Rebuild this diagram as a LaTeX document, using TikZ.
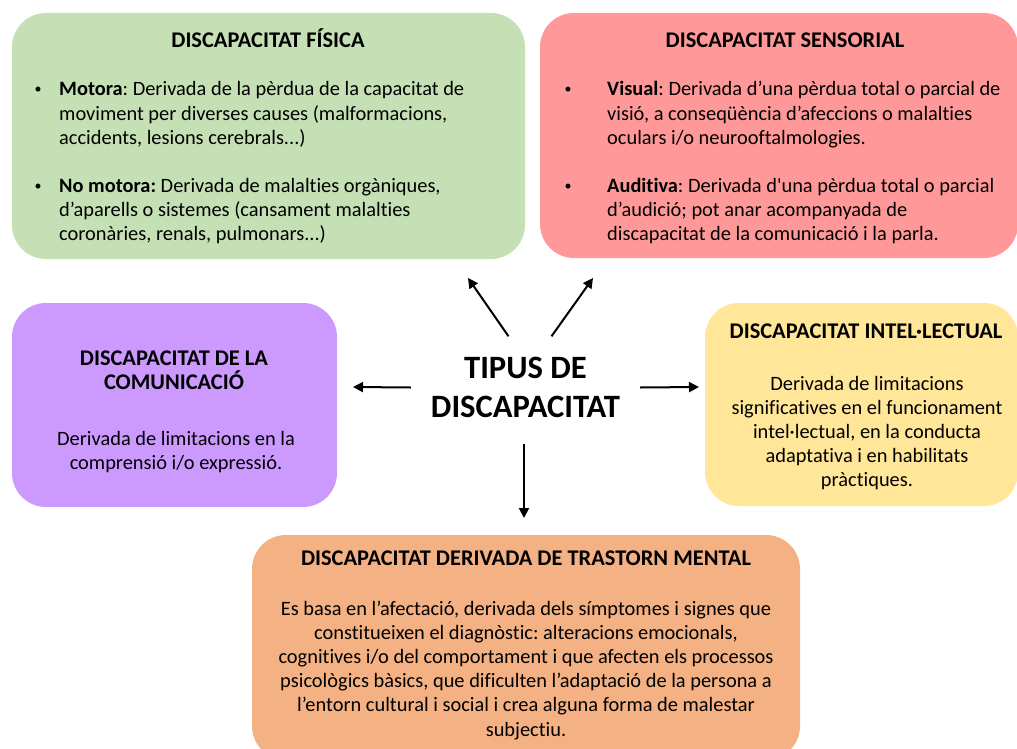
\documentclass[tikz,border=0pt]{standalone}
\usepackage{fontspec}
\setmainfont[Ligatures={TeXOff,NoCommon}]{Carlito}
\usetikzlibrary{arrows.meta}
\definecolor{cgreen}{HTML}{C5E0B4}
\definecolor{cred}{HTML}{FF9999}
\definecolor{cpurple}{HTML}{CC99FF}
\definecolor{cyellow}{HTML}{FFE699}
\definecolor{corange}{HTML}{F4B183}
\frenchspacing
\tikzset{
  box/.style={rounded corners=34pt, inner sep=0, draw=none},
  body/.style={font=\fontsize{20.4}{24.2}\selectfont\frenchspacing, inner sep=0},
  bul/.style={font=\fontsize{14}{16}\selectfont, inner sep=0},
  ttl/.style={font=\fontsize{22.4}{24.6}\selectfont\bfseries\frenchspacing, inner sep=0},
  arr/.style={line width=2pt, -{Triangle[length=10pt,width=10pt]}},
}
\begin{document}
\begin{tikzpicture}[x=1pt,y=-1pt]
\useasboundingbox (0,0) rectangle (1017,749);
\clip (0,0) rectangle (1017,749);
% boxes
\node[box, fill=cgreen,  minimum width=513pt, minimum height=246pt] (fis) at (268.5,136) {};
\node[box, fill=cred,    minimum width=478pt, minimum height=245pt] (sen) at (779,135.5) {};
\node[box, fill=cpurple, minimum width=325pt, minimum height=204pt] (com) at (174.5,405) {};
\node[box, fill=cyellow, minimum width=313pt, minimum height=203pt] (int) at (861.5,404.5) {};
\node[box, fill=corange, minimum width=548pt, minimum height=225pt] (men) at (526,647.5) {};
% fisica
\node[ttl, anchor=base] (fisT) at (268,48) {DISCAPACITAT FÍSICA};
\node[bul, anchor=base] (fisB1) at (38,94) {•};
\node[body, anchor=base west] (fisP1) at (59,96) {\parbox[t]{470pt}{\raggedright\textbf{Motora}: Derivada de la pèrdua de la capacitat de\\moviment per diverses causes (malformacions,\\accidents, lesions cerebrals...)}};
\node[bul, anchor=base] (fisB2) at (38,190.5) {•};
\node[body, anchor=base west] (fisP2) at (59,192.5) {\parbox[t]{470pt}{\raggedright\textbf{No motora:} Derivada de malalties orgàniques,\\d’aparells o sistemes (cansament malalties\\coronàries, renals, pulmonars...)}};
% sensorial
\node[ttl, anchor=base] (senT) at (785,48) {DISCAPACITAT SENSORIAL};
\node[bul, anchor=base] (senB1) at (568,94) {•};
\node[body, anchor=base west] (senP1) at (607,96) {\parbox[t]{420pt}{\raggedright\textbf{Visual}: Derivada d’una pèrdua total o parcial de\\visió, a conseqüència d’afeccions o malalties\\oculars i/o neurooftalmologies.}};
\node[bul, anchor=base] (senB2) at (568,190.5) {•};
\node[body, anchor=base west] (senP2) at (607,192.5) {\parbox[t]{420pt}{\raggedright\textbf{Auditiva}: Derivada d'una pèrdua total o parcial\\d’audició; pot anar acompanyada de\\discapacitat de la comunicació i la parla.}};
% comunicacio
\node[ttl, anchor=base] (comT) at (174,365) {\parbox[t]{310pt}{\centering DISCAPACITAT DE LA\\COMUNICACIÓ}};
\node[body, anchor=base] (comP) at (176,445) {\parbox[t]{310pt}{\centering Derivada de limitacions en la\\comprensió i/o expressió.}};
% intel·lectual
\node[ttl, anchor=base] (intT) at (866,338) {DISCAPACITAT INTEL·LECTUAL};
\node[body, anchor=base] (intP) at (867,390) {\parbox[t]{310pt}{\centering Derivada de limitacions\\significatives en el funcionament\\intel·lectual, en la conducta\\adaptativa i en habilitats\\pràctiques.}};
% mental
\node[ttl, anchor=base] (menT) at (526,565) {DISCAPACITAT DERIVADA DE TRASTORN MENTAL};
\node[body, anchor=base] (menP) at (526,615) {\parbox[t]{545pt}{\centering Es basa en l’afectació, derivada dels símptomes i signes que\\constitueixen el diagnòstic: alteracions emocionals,\\cognitives i/o del comportament i que afecten els processos\\psicològics bàsics, que dificulten l’adaptació de la persona a\\l’entorn cultural i social i crea alguna forma de malestar\\subjectiu.}};
% centre
\node[inner sep=0, minimum width=229pt, minimum height=102pt, align=center,
      font=\fontsize{32.6}{39}\selectfont\bfseries] (tip) at (525.5,387.5) {TIPUS DE\\DISCAPACITAT};
\coordinate (eUL) at (468,278);
\coordinate (eUR) at (593,278);
\coordinate (eL) at (353,387);
\coordinate (eR) at (699,387);
\coordinate (eD) at (524,518);
\draw[arr] ([xshift=-17pt]tip.north) -- (eUL);
\draw[arr] ([xshift=26pt]tip.north) -- (eUR);
\draw[arr] (tip.west) -- (eL);
\draw[arr] (tip.east) -- (eR);
\draw[arr, shorten <=5pt] ([xshift=-1.5pt]tip.south) -- (eD);
\end{tikzpicture}
\end{document}
